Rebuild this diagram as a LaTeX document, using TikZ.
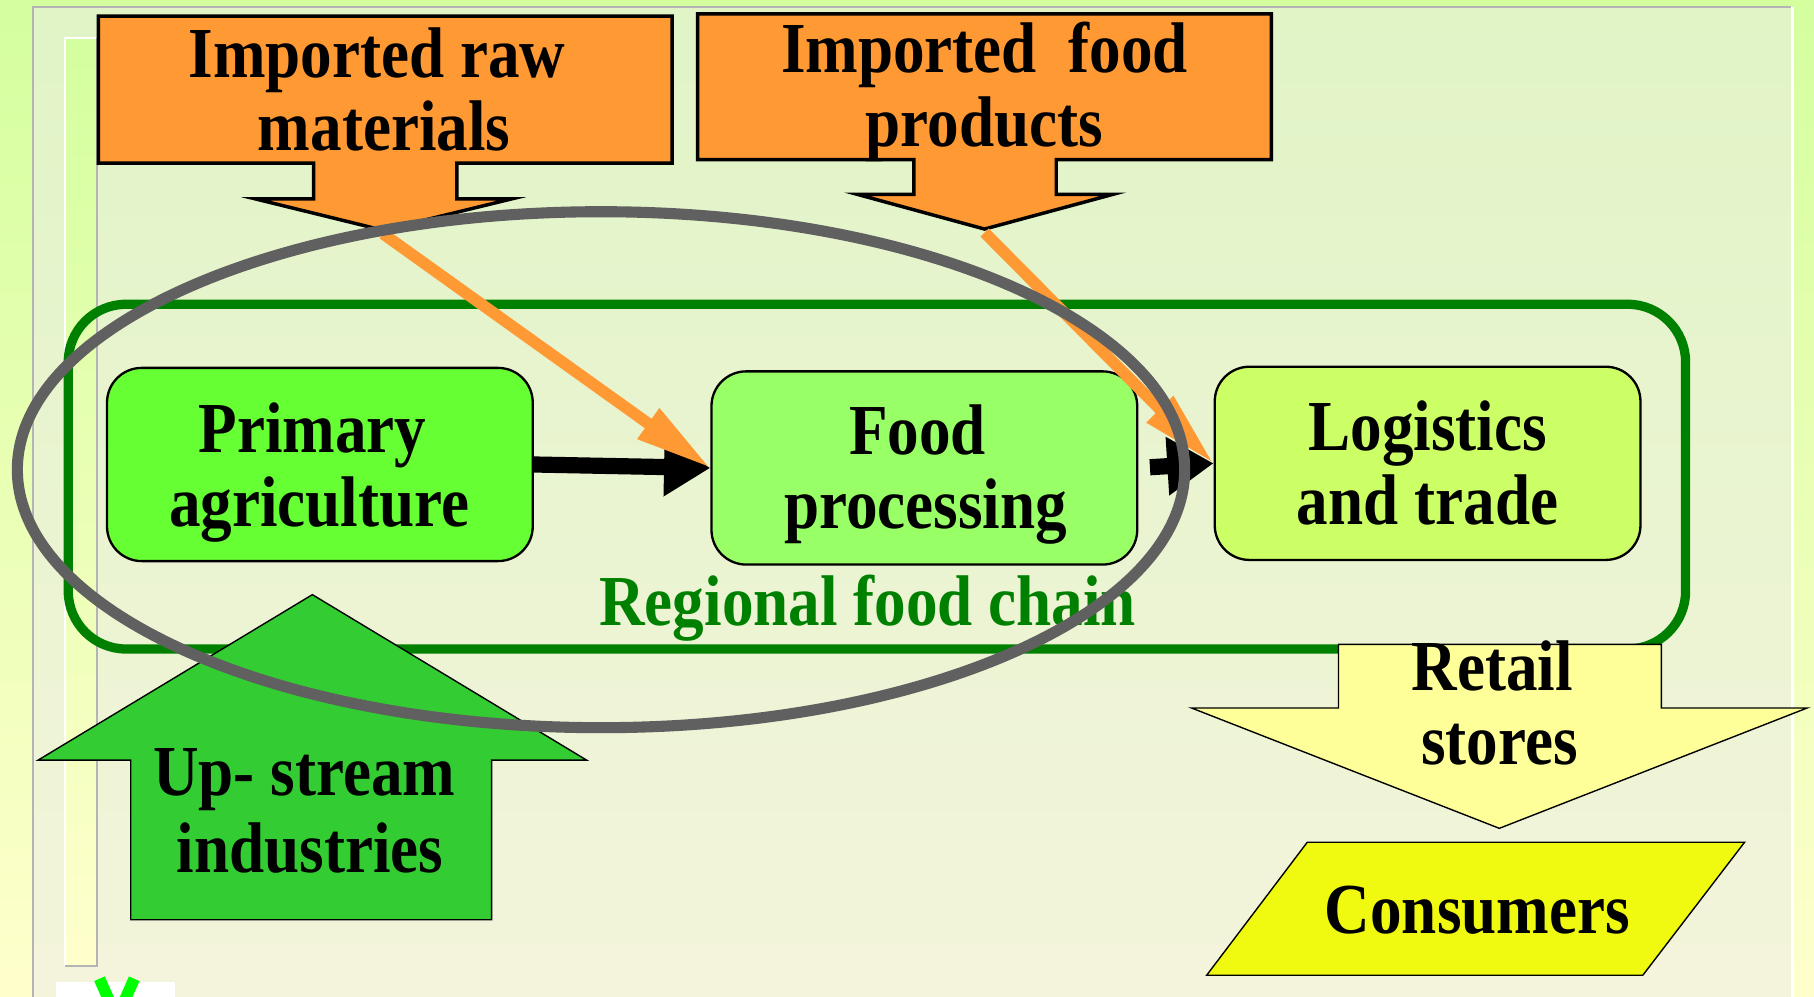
\documentclass[tikz,border=0pt]{standalone}
\usepackage{fontspec}
\setmainfont{Liberation Serif}[FakeStretch=0.88]
\usetikzlibrary{arrows.meta}
\definecolor{bgtop}{HTML}{D4FF9E}
\definecolor{bgbot}{HTML}{FFFFCC}
\definecolor{pantop}{HTML}{E0F4C6}
\definecolor{panbot}{HTML}{F4F4DC}
\definecolor{edgegray}{HTML}{B4B4B4}
\definecolor{orangeC}{HTML}{FF9933}
\definecolor{chaingreen}{HTML}{008000}
\definecolor{agriC}{HTML}{66FF33}
\definecolor{foodC}{HTML}{99FF66}
\definecolor{logiC}{HTML}{CCFF66}
\definecolor{upC}{HTML}{33CC33}
\definecolor{retailC}{HTML}{FFFF99}
\definecolor{consC}{HTML}{F0FA10}
\definecolor{ringC}{HTML}{606060}
\definecolor{xgreen}{HTML}{00FF00}
\begin{document}
\begin{tikzpicture}[x=0.5pt,y=-0.5pt,
  lbl/.style={font=\fontsize{31}{33}\selectfont\bfseries, anchor=base, inner sep=0pt},
  box/.style={draw=black, line width=1pt, rounded corners=15pt, minimum width=184pt, minimum height=83.5pt, inner sep=0pt},
  callout/.style={draw=black, fill=orangeC, line width=1.5pt},
  bigarrow/.style={draw=black, line width=0.6pt},
  blk/.style={draw=black, line width=7pt, -{Triangle[length=20pt,width=24pt]}},
  orarrow/.style={draw=orangeC, line width=5pt, -{Triangle[length=33pt,width=15pt]}},
  ring/.style={draw=ringC, line width=4.8pt}]
\useasboundingbox (0,0) rectangle (1568,861);
\clip (0,0) rectangle (1568,861);
% backgrounds
\shade[top color=bgtop, bottom color=bgbot] (0,0) rectangle (1568,861);
\shade[top color=pantop, bottom color=panbot] (28.5,6) rectangle (1548,880);
\draw[edgegray, line width=1pt] (28.5,880) -- (28.5,6) -- (1548,6);
\draw[white, line width=1pt] (1549.5,6) -- (1549.5,880);
\shade[top color=bgtop, bottom color=bgbot] (56,33) rectangle (84,835);
\draw[white, line width=1pt] (56,835) -- (56,33) -- (84,33);
\draw[edgegray, line width=1pt] (84,33) -- (84,835) -- (56,835);
\fill[white] (48,849) rectangle (151,880);
\draw[xgreen, line width=5pt] (86,846) -- (101,880);
\draw[xgreen, line width=5pt] (116,846) -- (101,880);
% regional container
\draw[chaingreen, line width=4pt, rounded corners=25pt] (59,263) rectangle (1457,561);
% callouts
\draw[callout] (85,14) -- (581,14) -- (581,141) -- (395,141) -- (395,172) -- (442,172) -- (331,199) -- (221,172) -- (271,172) -- (271,141) -- (85,141) -- cycle;
\draw[callout] (603,12) -- (1099,12) -- (1099,138) -- (913,138) -- (913,168) -- (962,168) -- (851,198) -- (741,168) -- (790,168) -- (790,138) -- (603,138) -- cycle;
\node[lbl] (rawA) at (326,67) {Imported raw};
\node[lbl] (rawB) at (332,130) {materials};
\node[lbl] (impA) at (851,63) {Imported\ \ food};
\node[lbl] (impB) at (851,127) {products};
\coordinate (tipRaw) at (331,202);
\coordinate (tipImp) at (851,201);
% chain boxes
\node[box, fill=agriC] (agri) at (276.5,401.5) {};
\node[box, fill=foodC] (food) at (799,404.5) {};
\node[box, fill=logiC] (logi) at (1234,400.5) {};
\node[lbl] (agriA) at (270,391) {Primary};
\node[lbl] (agriB) at (276,455) {agriculture};
\node[lbl] (foodA) at (793,393) {Food};
\node[lbl] (foodB) at (800,457) {processing};
\node[lbl] (logiA) at (1234,389) {Logistics};
\node[lbl] (logiB) at (1234,453) {and trade};
\draw[blk] (agri.east) -- (food.west);
\draw[blk, shorten <=5pt] (food.east) -- (logi.west);
\draw[orarrow] (tipRaw) -- (food.west);
\draw[orarrow] (tipImp) -- (logi.west);
\node[lbl, text=chaingreen] (region) at (750,541) {Regional food chain};
% up-stream arrow
\draw[bigarrow, fill=upC] (113,795) -- (425,795) -- (425,657) -- (507,657) -- (270,514) -- (33,657) -- (113,657) -- cycle;
\node[lbl] (upA) at (263,688) {Up- stream};
\node[lbl] (upB) at (268,754) {industries};
% retail arrow
\draw[bigarrow, fill=retailC] (1157,557) -- (1436,557) -- (1436,612) -- (1562,612) -- (1296,716) -- (1030,612) -- (1157,612) -- cycle;
\node[lbl] (retA) at (1290,597) {Retail};
\node[lbl] (retB) at (1296,661) {stores};
% consumers
\draw[bigarrow, fill=consC] (1130,728) -- (1508,728) -- (1420,843) -- (1043,843) -- cycle;
\node[lbl] (cons) at (1277,807) {Consumers};
% ring
\draw[ring] (519.5,406) ellipse [x radius=504.5, y radius=223];
\end{tikzpicture}
\end{document}
